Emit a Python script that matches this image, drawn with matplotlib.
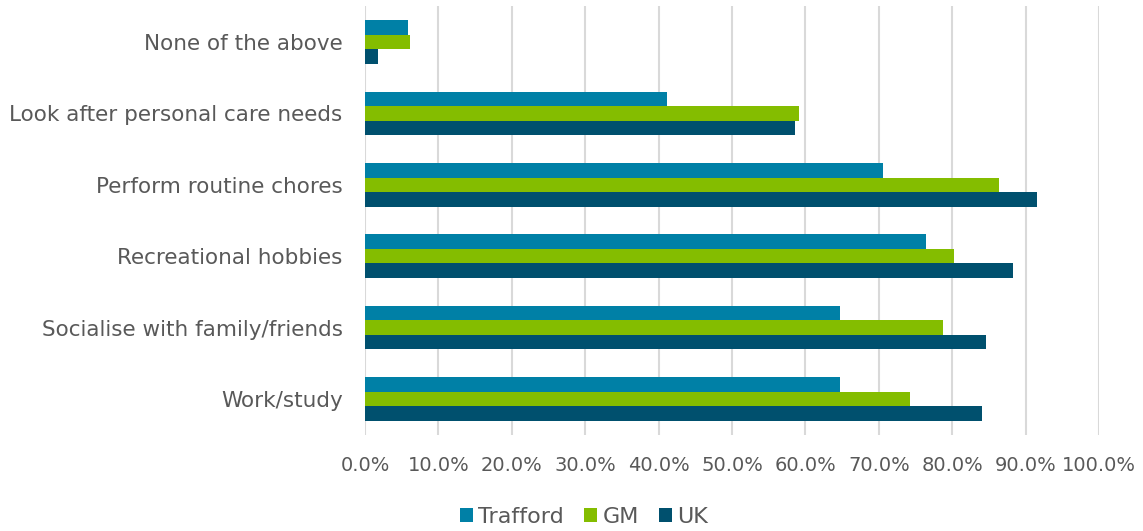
import numpy as np
import matplotlib
matplotlib.use("Agg")
import matplotlib.pyplot as plt
from matplotlib.ticker import FuncFormatter

categories = ["Work/study", "Socialise with family/friends", "Recreational hobbies",
              "Perform routine chores", "Look after personal care needs", "None of the above"]
trafford = [64.7, 64.7, 76.5, 70.6, 41.2, 5.9]
gm = [74.2, 78.8, 80.2, 86.4, 59.1, 6.1]
uk = [84.1, 84.6, 88.3, 91.6, 58.6, 1.8]

series = ["Trafford", "GM", "UK"]
colors = ["#0080A6", "#84BD00", "#00506E"]

plt.rcParams['font.family'] = ['DejaVu Sans']

fig = plt.figure(figsize=(11.43, 5.31), dpi=100)
ax = fig.add_axes([0.3193, 0.1814, 0.6422, 0.8066])

y = np.arange(len(categories))
h = 0.203
for k, (vals, c, lab) in enumerate(zip([trafford, gm, uk], colors, series)):
    ax.barh(y + (1 - k) * h, vals, height=h, color=c, label=lab, zorder=3)

ax.set_xlim(0, 100)
ax.set_ylim(-0.5, len(categories) - 0.5)
ax.set_xticks(np.arange(0, 101, 10))
ax.xaxis.set_major_formatter(FuncFormatter(lambda v, p: "%.1f%%" % v))
ax.set_yticks(y)
ax.set_yticklabels(categories)
ax.grid(axis='x', color='#D9D9D9', linewidth=1.5, zorder=0)
for s in ax.spines.values():
    s.set_visible(False)
ax.tick_params(axis='both', length=0, colors='#595959')
ax.tick_params(axis='x', pad=15, labelsize=14)
ax.tick_params(axis='y', pad=16, labelsize=15.5)

fig.legend(loc='center', bbox_to_anchor=(0.511, 0.027), ncol=3, frameon=False,
           fontsize=16, labelcolor='#595959', handlelength=0.6, handleheight=0.6,
           handletextpad=0.23, columnspacing=0.9)

fig.savefig("out.png", dpi=100)
